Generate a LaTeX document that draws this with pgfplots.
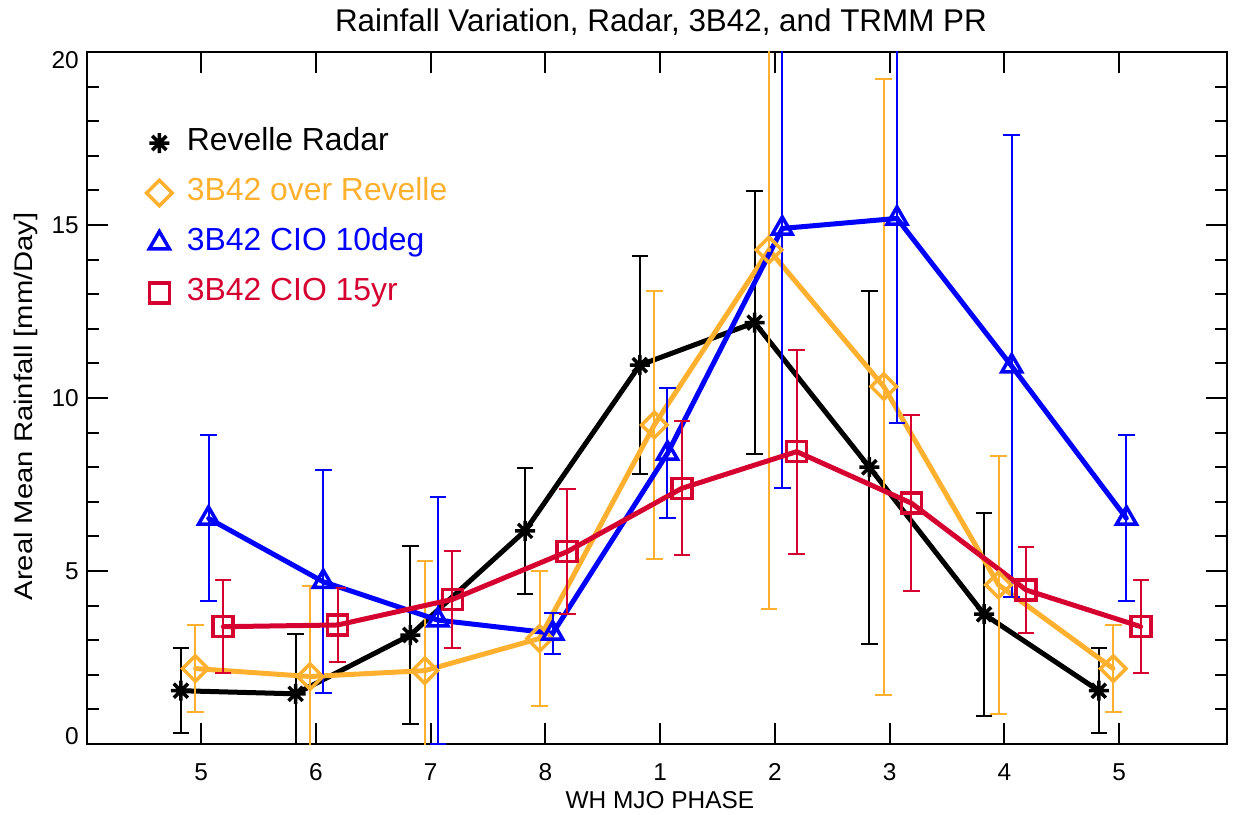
\documentclass[border=0pt]{standalone}
\usepackage{pgfplots}
\usepackage{pgfplotstable}
\pgfplotsset{compat=1.18}
\usepackage{fontspec}
\setmainfont{Liberation Sans}
\newfontfamily\ylabfont{Liberation Sans}[FakeStretch=1.15]
\definecolor{cOra}{RGB}{255,176,46}
\definecolor{cRed}{RGB}{214,0,48}
\definecolor{cBlu}{RGB}{0,0,255}
\pgfdeclareplotmark{ast8}{%
  \pgfpathmoveto{\pgfqpoint{0pt}{-\pgfplotmarksize}}\pgfpathlineto{\pgfqpoint{0pt}{\pgfplotmarksize}}%
  \pgfpathmoveto{\pgfqpoint{-\pgfplotmarksize}{0pt}}\pgfpathlineto{\pgfqpoint{\pgfplotmarksize}{0pt}}%
  \pgfpathmoveto{\pgfqpointpolar{225}{\pgfplotmarksize}}\pgfpathlineto{\pgfqpointpolar{45}{\pgfplotmarksize}}%
  \pgfpathmoveto{\pgfqpointpolar{135}{\pgfplotmarksize}}\pgfpathlineto{\pgfqpointpolar{315}{\pgfplotmarksize}}%
  \pgfusepathqstroke}

\pgfplotstableread{
x y e
-0.177 1.54 1.23
0.823 1.45 1.74
1.823 3.15 2.57
2.823 6.16 1.82
3.823 10.95 3.15
4.823 12.18 3.80
5.823 8.00 5.10
6.823 3.75 2.94
7.823 1.54 1.23
}\radar

\pgfplotstableread{
x y e
-0.051 2.18 1.25
0.949 1.95 2.63
1.949 2.12 3.16
2.949 3.05 1.96
3.949 9.22 3.87
4.949 14.28 10.38
5.949 10.33 8.90
6.949 4.60 3.72
7.949 2.18 1.25
}\orev

\pgfplotstableread{
x y e
0.064 6.52 2.40
1.064 4.69 3.23
2.064 3.58 3.57
3.064 3.20 0.60
4.064 8.40 1.88
5.064 14.90 7.50
6.064 15.19 5.92
7.064 10.92 6.68
8.064 6.52 2.40
}\cioten

\pgfplotstableread{
x y e
0.19 3.39 1.35
1.19 3.44 1.08
2.19 4.18 1.41
3.19 5.56 1.80
4.19 7.39 1.94
5.19 8.45 2.95
6.19 6.96 2.55
7.19 4.45 1.24
8.19 3.39 1.35
}\cioyr

\begin{document}
\begin{tikzpicture}
\useasboundingbox (-87bp,-71bp) rectangle (1151bp,744bp);
\begin{axis}[
  scale only axis, width=1140bp, height=692bp,
  at={(0,0)}, anchor=south west,
  xmin=-0.995, xmax=8.94, ymin=0, ymax=20,
  clip bounding box=upper bound,
  xtick={0,...,8}, xticklabels={5,6,7,8,1,2,3,4,5},
  ytick={0,5,10,15,20},
  yticklabels={{\raisebox{8bp}{0}},5,10,15,{\raisebox{-8bp}{20}}},
  minor ytick={1,2,3,4,6,7,8,9,11,12,13,14,16,17,18,19},
  major tick length=21bp, minor tick length=12bp,
  every tick/.style={black, line width=2bp},
  axis line style={line width=2bp},
  /pgf/number format/assume math mode=true,
  tick label style={font=\fontsize{24.5}{24.5}\selectfont},
  xticklabel style={anchor=base, inner sep=0pt, yshift=-36bp},
  yticklabel style={anchor=base east, inner sep=0pt, xshift=-8bp, yshift=-8.75bp},
  xlabel={WH MJO PHASE}, ylabel={Areal Mean Rainfall [mm/Day]},
  xlabel style={font=\fontsize{24.5}{24.5}\selectfont, at={(axis description cs:0.5026,-0.0925)}, anchor=base},
  ylabel style={font=\ylabfont\fontsize{25.5}{25.5}\selectfont, at={(axis description cs:-0.0474,0.488)}, anchor=base},
  title={Rainfall Variation, Radar, 3B42, and TRMM PR},
  title style={font=\fontsize{31.5}{31.5}\selectfont, at={(axis description cs:0.5035,1)}, anchor=base, yshift=15bp},
  legend style={draw=none, fill=none, at={(axis description cs:0.049,0.8945)}, anchor=north west,
    inner sep=0pt, outer sep=0pt, row sep=18bp, column sep=0pt,
    nodes={inner sep=0pt, text height=25bp, text depth=7bp, font=\fontsize{32}{32}\selectfont}},
  legend cell align=left,
  legend image code/.code={\path (-14bp,0bp) (25bp,0bp); \draw[#1, only marks] plot coordinates {(0bp,-2bp)};},
]
% Revelle radar
\addplot[black, line width=5bp, mark=ast8, mark size=10bp, mark options={line width=3.5bp, solid}] table[x=x,y=y]{\radar};
\addlegendentry{Revelle Radar}
\addplot[forget plot, black, only marks, mark=none, error bars/.cd, y dir=both, y explicit,
  error bar style={line width=2bp, black},
  error mark options={rotate=90, black, mark size=8.3bp, line width=2bp}] table[x=x,y=y,y error=e]{\radar};
% 3B42 over Revelle
\addplot[cOra, line width=5bp, mark=square, mark size=9bp, mark options={rotate=45, line width=3.5bp, fill=white, solid}] table[x=x,y=y]{\orev};
\addlegendentry{\textcolor{cOra}{3B42 over Revelle}}
\addplot[forget plot, cOra, only marks, mark=none, error bars/.cd, y dir=both, y explicit,
  error bar style={line width=2bp, cOra},
  error mark options={rotate=90, cOra, mark size=8.3bp, line width=2bp}] table[x=x,y=y,y error=e]{\orev};
% 3B42 CIO 10deg
\addplot[cBlu, line width=5bp, mark=triangle, mark size=11.5bp, mark options={line width=3.5bp, fill=white, solid}] table[x=x,y=y]{\cioten};
\addlegendentry{\textcolor{cBlu}{3B42 CIO 10deg}}
\addplot[forget plot, cBlu, only marks, mark=none, error bars/.cd, y dir=both, y explicit,
  error bar style={line width=2bp, cBlu},
  error mark options={rotate=90, cBlu, mark size=8.3bp, line width=2bp}] table[x=x,y=y,y error=e]{\cioten};
% 3B42 CIO 15yr
\addplot[cRed, line width=5bp, mark=square, mark size=10bp, mark options={line width=3.5bp, fill=white, solid}] table[x=x,y=y]{\cioyr};
\addlegendentry{\textcolor{cRed}{3B42 CIO 15yr}}
\addplot[forget plot, cRed, only marks, mark=none, error bars/.cd, y dir=both, y explicit,
  error bar style={line width=2bp, cRed},
  error mark options={rotate=90, cRed, mark size=8.3bp, line width=2bp}] table[x=x,y=y,y error=e]{\cioyr};
\end{axis}
\end{tikzpicture}
\end{document}
